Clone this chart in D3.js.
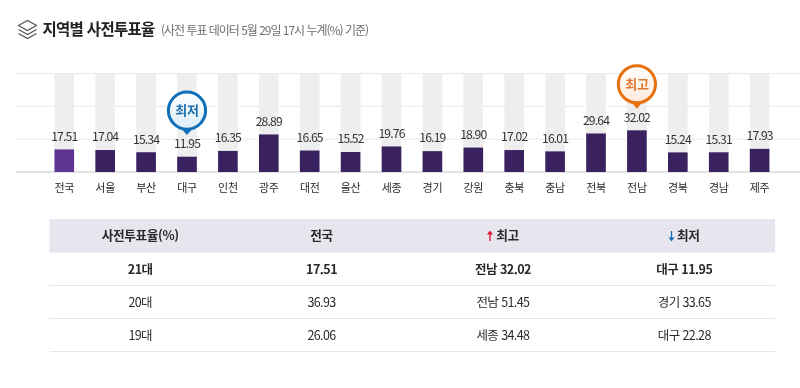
<!DOCTYPE html>
<html lang="ko"><head><meta charset="utf-8">
<script src="https://cdn.jsdelivr.net/npm/d3@7"></script>
<style>
html,body{margin:0;padding:0;background:#fff;overflow:hidden}
svg{display:block;filter:blur(0.35px)}
text{font-family:"Noto Sans CJK KR","Noto Sans",sans-serif}
</style></head><body>
<svg id="c" width="800" height="388"></svg>
<script>
const categories=["전국","서울","부산","대구","인천","광주","대전","울산","세종","경기","강원","충북","충남","전북","전남","경북","경남","제주"];
const values=[17.51,17.04,15.34,11.95,16.35,28.89,16.65,15.52,19.76,16.19,18.90,17.02,16.01,29.64,32.02,15.24,15.31,17.93];
const yTicks=[0,25,50,75];
const tableHeader=["사전투표율(%)","전국","최고","최저"];
const tableRows=[["21대","17.51","전남 32.02","대구 11.95"],["20대","36.93","전남 51.45","경기 33.65"],["19대","26.06","세종 34.48","대구 22.28"]];
const lowest="대구",highest="전남";

const svg=d3.select("#c");
svg.append("rect").attr("width",800).attr("height",388).attr("fill","#fff");
// title
const icon=svg.append("g").attr("fill","none").attr("stroke","#555").attr("stroke-width",1.2);
icon.append("path").attr("d","M18.5 25.5 L27.5 20.5 L36.5 25.5 L27.5 30.5 Z");
icon.append("path").attr("d","M18.5 29.5 L27.5 34.5 L36.5 29.5");
icon.append("path").attr("d","M18.5 33.5 L27.5 38.5 L36.5 33.5");
svg.append("text").attr("x",42.5).attr("y",35).attr("font-size",15.5).attr("font-weight",700).attr("letter-spacing",-0.7).attr("fill","#222").text("지역별 사전투표율");
svg.append("text").attr("x",161).attr("y",35).attr("font-size",12).attr("letter-spacing",-1.02).attr("fill","#6f6f6f").text("(사전 투표 데이터 5월 29일 17시 누계(%) 기준)");

// chart
const x=d3.scaleBand().domain(categories).range([33.2,790.7]).paddingInner(.52).paddingOuter(.52);
const y=d3.scaleLinear().domain([0,75]).range([172,73.5]);
svg.append("g").selectAll("line").data(yTicks).join("line")
 .attr("x1",16).attr("x2",800).attr("y1",d=>y(d)).attr("y2",d=>y(d))
 .attr("stroke",d=>d===0?"#c4c4c8":"#e9e9e9").attr("stroke-width",1);
svg.append("g").selectAll("rect").data(categories).join("rect")
 .attr("x",d=>x(d)).attr("width",x.bandwidth()).attr("y",y(75)).attr("height",y(0)-y(75)).attr("fill","#eeeeee");
svg.append("g").selectAll("rect").data(values).join("rect")
 .attr("x",(d,i)=>x(categories[i])).attr("width",x.bandwidth())
 .attr("y",d=>y(d)+0.4).attr("height",d=>y(0)-y(d)-0.4)
 .attr("fill",(d,i)=>i===0?"#5f3594":"#3a2260");
svg.append("g").attr("font-size",12.2).attr("font-weight",400).attr("letter-spacing",-0.85).attr("fill","#333").attr("text-anchor","middle")
 .selectAll("text").data(values).join("text")
 .attr("x",(d,i)=>x(categories[i])+x.bandwidth()/2).attr("y",d=>y(d)-8.3).text(d=>d.toFixed(2));
svg.append("g").attr("font-size",11).attr("letter-spacing",-0.3).attr("fill","#2b2b2b").attr("text-anchor","middle")
 .selectAll("text").data(categories).join("text")
 .attr("x",d=>x(d)+x.bandwidth()/2).attr("y",192).text(d=>d);

// pins
function pin(cat,label,stroke,textFill,tint){
  const i=categories.indexOf(cat),cx=x(cat)+x.bandwidth()/2,tip=y(values[i])-21.2,cy=tip-24.5,r=18.6;
  const g=svg.append("g");
  const id="g"+label.charCodeAt(1);
  const gr=svg.append("defs").append("linearGradient").attr("id",id).attr("x1",0).attr("x2",0).attr("y1",0).attr("y2",1);
  gr.append("stop").attr("offset",0).attr("stop-color","#fff");
  gr.append("stop").attr("offset",1).attr("stop-color",tint);
  g.append("path").attr("d",`M${cx-6} ${cy+r-1} L${cx} ${tip} L${cx+6} ${cy+r-1} Z`).attr("fill",stroke);
  g.append("circle").attr("cx",cx).attr("cy",cy).attr("r",r).attr("fill",`url(#${id})`).attr("stroke",stroke).attr("stroke-width",3);
  g.append("text").attr("x",cx).attr("y",cy+4.5).attr("text-anchor","middle").attr("font-size",13).attr("font-weight",700).attr("letter-spacing",-0.2).attr("fill",textFill).text(label);
}
pin(lowest,"최저","#0f6fb8","#1b6fae","#dcecf7");
pin(highest,"최고","#e8710f","#e07a33","#fdeadb");

// table
const cols=d3.scaleBand().domain(d3.range(4)).range([49.5,775]);
svg.append("rect").attr("x",49.5).attr("y",219).attr("width",725.5).attr("height",33.5).attr("fill","#e7e6ee");
const cx=i=>cols(i)+cols.bandwidth()/2;
tableHeader.forEach((h,i)=>{
  svg.append("text").attr("x",cx(i)+(i===2?4.5:i===3?4:0)).attr("y",240).attr("text-anchor","middle").attr("font-size",12.7).attr("font-weight",700).attr("letter-spacing",-0.4).attr("fill","#2a2a2a").text(h);
});
function arrow(xx,up,col){
  const g=svg.append("g").attr("stroke",col).attr("fill",col);
  g.append("line").attr("x1",xx).attr("x2",xx).attr("y1",up?233:231).attr("y2",up?241:239).attr("stroke-width",1.3);
  g.append("path").attr("stroke","none").attr("d",up?`M${xx-3} 234.5 L${xx} 230.5 L${xx+3} 234.5 Z`:`M${xx-3} 237.5 L${xx} 241.5 L${xx+3} 237.5 Z`);
}
arrow(490,true,"#e0102a");arrow(671.5,false,"#1b6fb5");
tableRows.forEach((r,ri)=>{
  const top=252.5+33*ri;
  r.forEach((t,i)=>{
    svg.append("text").attr("x",cx(i)).attr("y",top+21).attr("text-anchor","middle").attr("font-size",12.5)
     .attr("font-weight",ri===0?700:400).attr("letter-spacing",ri===0?-0.5:-0.6).attr("fill","#2a2a2a").text(t);
  });
  svg.append("line").attr("x1",49.5).attr("x2",775).attr("y1",top+33).attr("y2",top+33).attr("stroke","#e6e6e6");
});
</script></body></html>
